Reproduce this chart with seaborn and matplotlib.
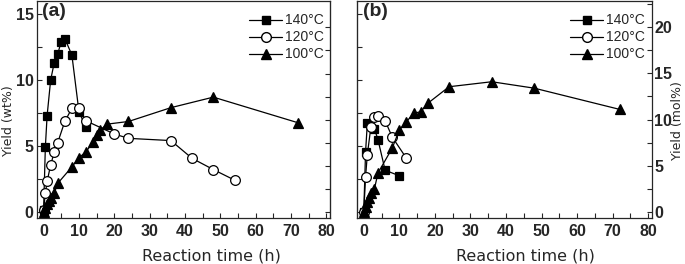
import numpy as np
import seaborn as sns
import matplotlib.pyplot as plt
from matplotlib.ticker import MultipleLocator
from matplotlib.lines import Line2D

# (a) yield in wt%
t140_a = [0, 0.5, 1, 2, 3, 4, 5, 6, 8, 10, 12]
y140_a = [0.1, 4.9, 7.3, 10.0, 11.3, 12.0, 12.9, 13.15, 11.9, 7.6, 6.4]
t120_a = [0, 0.5, 1, 2, 3, 4, 6, 8, 10, 12, 20, 24, 36, 42, 48, 54]
y120_a = [0.1, 1.4, 2.3, 3.55, 4.5, 5.25, 6.85, 7.85, 7.85, 6.9, 5.9, 5.57, 5.4, 4.05, 3.2, 2.4]
t100_a = [0, 0.5, 1, 1.5, 2, 3, 4, 8, 10, 12, 14, 15, 16, 18, 24, 36, 48, 72]
y100_a = [0, 0.3, 0.55, 0.8, 1.05, 1.4, 2.15, 3.4, 4.1, 4.55, 5.3, 5.8, 6.2, 6.65, 6.85, 7.9, 8.7, 6.75]

# (b) yield in mol%
t140_b = [0, 0.5, 1, 3, 4, 6, 10]
y140_b = [0, 6.5, 9.6, 9.0, 7.8, 4.5, 3.9]
t120_b = [0, 0.5, 1, 2, 3, 4, 6, 8, 12]
y120_b = [0, 3.8, 6.2, 9.2, 10.3, 10.4, 9.87, 8.1, 5.8]
t100_b = [0, 0.5, 1, 1.5, 2, 3, 4, 8, 10, 12, 14, 16, 18, 24, 36, 48, 72]
y100_b = [0, 0.5, 1.0, 1.5, 2.0, 2.5, 4.2, 6.9, 8.86, 9.76, 10.67, 10.85, 11.76, 13.56, 14.1, 13.4, 11.1]

labels = ['140\u00b0C', '120\u00b0C', '100\u00b0C']

sns.set_style('ticks')
plt.rcParams['font.family'] = ['Liberation Sans', 'DejaVu Sans']

K = 1.4295  # mol% per wt% on the shared pixel scale

fig = plt.figure(figsize=(6.85, 2.64), dpi=100)
ax_a = fig.add_axes([0.0533, 0.1742, 0.4285, 0.822])
ax_b = fig.add_axes([0.5207, 0.1742, 0.4307, 0.822])

styles = [dict(marker='s', markerfacecolor='k', markersize=6.3),
          dict(marker='o', markerfacecolor='white', markersize=7),
          dict(marker='^', markerfacecolor='k', markersize=7.5)]


def draw(ax, series):
    for (t, y), st in zip(series, styles):
        sns.lineplot(x=t, y=y, ax=ax, color='k', lw=0.9, sort=False,
                     markeredgecolor='k', markeredgewidth=0.9, **st)


draw(ax_a, [(t140_a, y140_a), (t120_a, y120_a), (t100_a, y100_a)])
draw(ax_b, [(t140_b, y140_b), (t120_b, y120_b), (t100_b, y100_b)])

for ax, xl in ((ax_a, 0.595), (ax_b, 0.571)):
    ax.set_xlim(-2, 81)
    ax.xaxis.set_major_locator(MultipleLocator(10))
    ax.xaxis.set_minor_locator(MultipleLocator(5))
    ax.tick_params(axis='both', which='both', direction='in', length=3.5, width=0.8)
    ax.tick_params(axis='x', labelsize=11.5, pad=4)
    ax.tick_params(axis='y', labelsize=11.5, pad=2)
    for lab in ax.get_xticklabels() + ax.get_yticklabels():
        lab.set_fontweight('bold')
    for s in ax.spines.values():
        s.set_linewidth(0.9)
        s.set_visible(True)
    ax.set_xlabel('Reaction time (h)', fontsize=11.5, family='DejaVu Sans', va='center')
    ax.xaxis.set_label_coords(xl, -0.175)
    handles = [Line2D([], [], color='k', lw=0.9, markeredgecolor='k', **st) for st in styles]
    ax.legend(handles, labels, loc='upper left', frameon=False, fontsize=10,
              handlelength=2.4, handletextpad=0.2, labelspacing=0.22, borderpad=0,
              bbox_to_anchor=(0.70, 0.975))

# panel (a): wt% on left, mol% ticks on right
ax_a.set_ylim(-0.48, 16.0)
ax_a.yaxis.set_major_locator(MultipleLocator(5))
ax_a.yaxis.set_minor_locator(MultipleLocator(2.5))
ax_a.set_ylabel('Yield (wt%)', fontsize=9, family='DejaVu Sans', va='center')
ax_a.yaxis.set_label_coords(-0.097, 0.45)
sec_a = ax_a.secondary_yaxis('right', functions=(lambda w: w * K, lambda m: m / K))
sec_a.set_yticks(np.arange(0, 20.1, 2.5))
sec_a.tick_params(direction='in', length=3.5, width=0.8, labelright=False)
ax_a.text(0.02, 0.99, '(a)', transform=ax_a.transAxes, fontsize=14, fontweight='bold', va='top')

# panel (b): mol% on right, wt% ticks on left
ax_b.set_ylim(-0.683, 22.86)
ax_b.yaxis.tick_right()
ax_b.yaxis.set_label_position('right')
ax_b.yaxis.set_major_locator(MultipleLocator(5))
ax_b.yaxis.set_minor_locator(MultipleLocator(2.5))
ax_b.tick_params(axis='y', which='both', direction='in', left=False, right=True)
ax_b.set_ylabel('Yield (mol%)', fontsize=9, family='DejaVu Sans', va='center')
ax_b.yaxis.set_label_coords(1.087, 0.45)
for lab in ax_b.get_yticklabels():
    lab.set_fontweight('bold')
sec_b = ax_b.secondary_yaxis('left', functions=(lambda m: m / K, lambda w: w * K))
sec_b.set_yticks(np.arange(0, 15.1, 2.5))
sec_b.tick_params(direction='in', length=3.5, width=0.8, labelleft=False)
ax_b.text(0.02, 0.99, '(b)', transform=ax_b.transAxes, fontsize=14, fontweight='bold', va='top')

fig.savefig('out.png', dpi=100)
